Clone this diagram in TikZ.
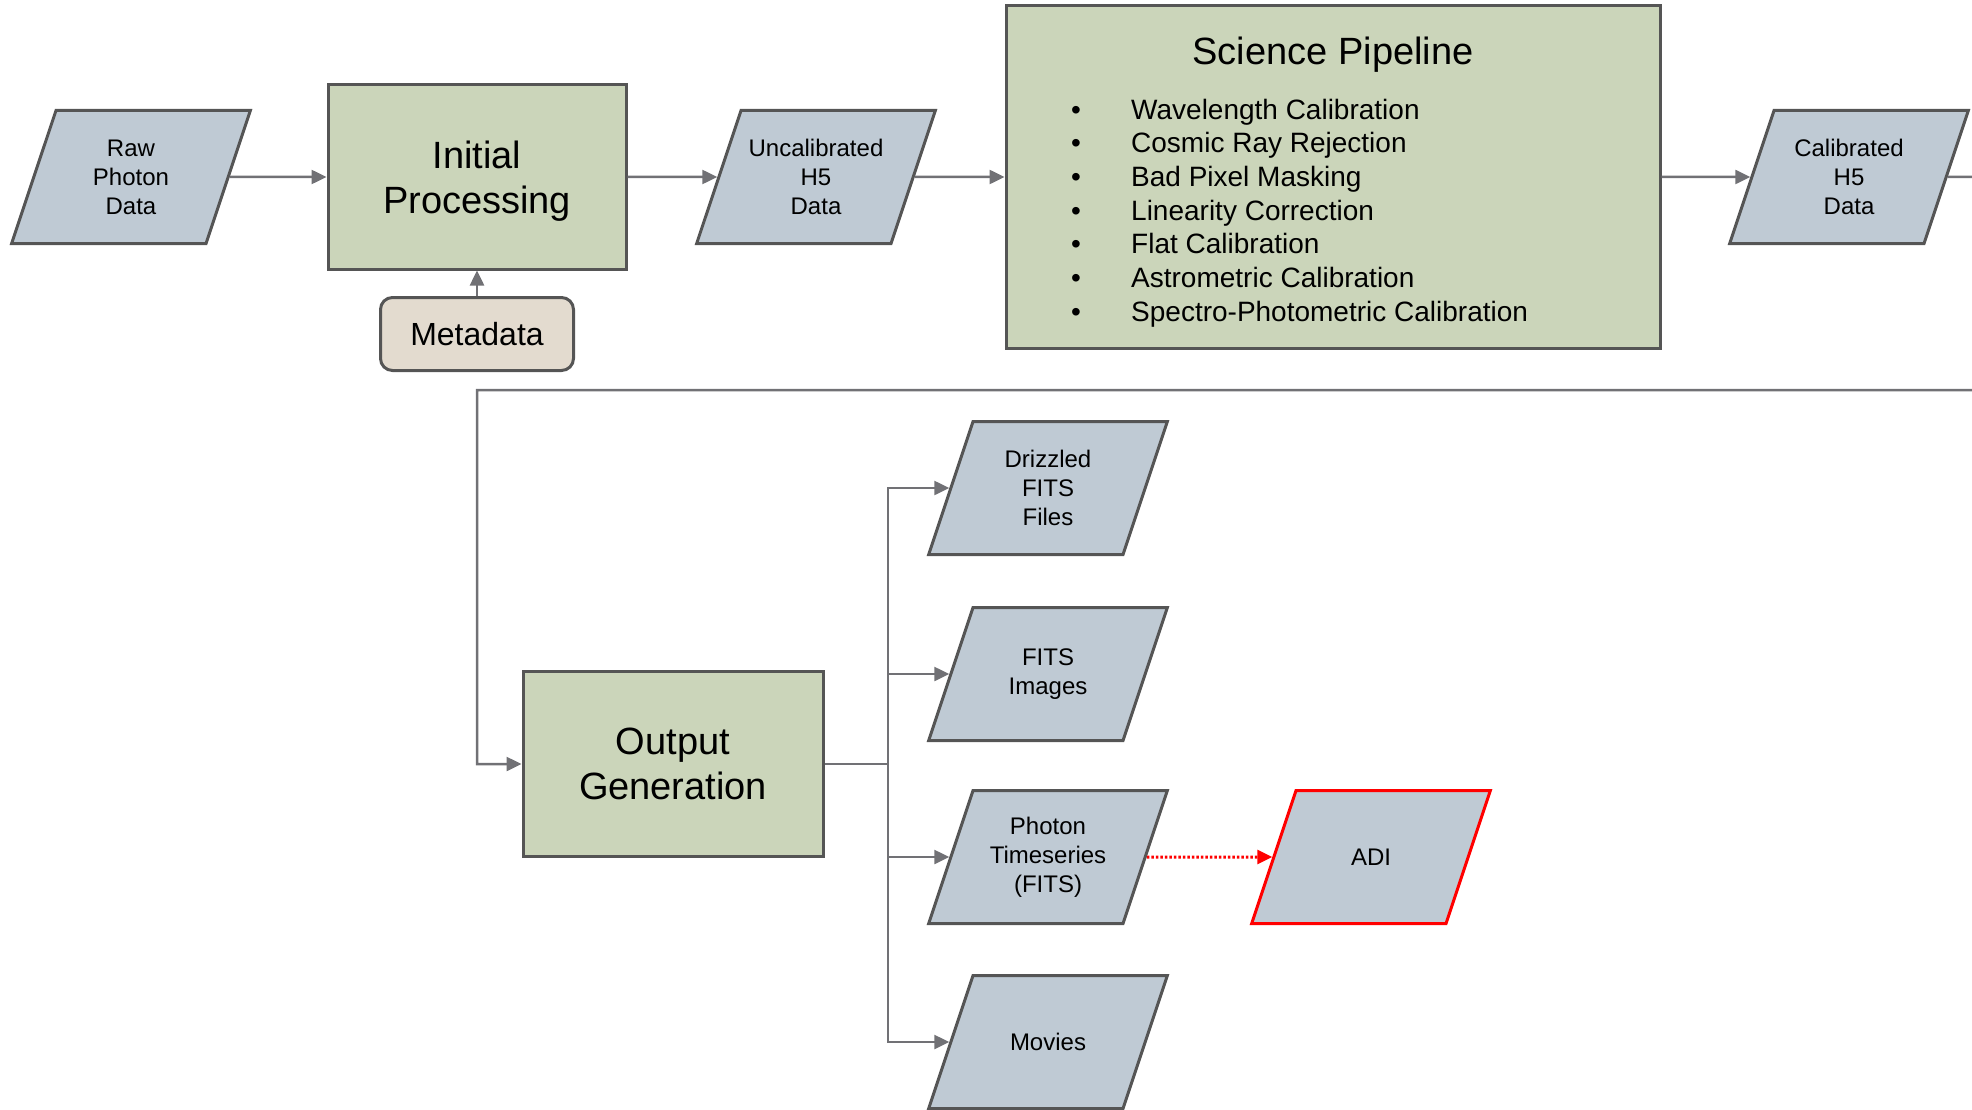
\documentclass[tikz,border=0pt]{standalone}
\usepackage{fontspec}
\setmainfont{Liberation Sans}
\usetikzlibrary{arrows.meta,positioning,shapes.geometric}
\definecolor{pdblue}{HTML}{BFCAD4}
\definecolor{pdgreen}{HTML}{CBD5BA}
\definecolor{pdsand}{HTML}{E3DBCF}
\definecolor{pdedge}{HTML}{555555}
\definecolor{pdline}{HTML}{717175}
\definecolor{pdred}{HTML}{FF0000}

\begin{document}
\begin{tikzpicture}[x=1pt,y=-1pt,>={Triangle[length=15pt,width=14pt]}]
    \tikzset{proc/.style={draw=pdedge,line width=3pt,fill=pdgreen,minimum width=298pt,minimum height=184pt,text depth=0pt,align=center,font=\fontsize{38}{45}\selectfont},
      file/.style={trapezium,trapezium left angle=61,trapezium right angle=119,trapezium stretches=true,draw=pdedge,line width=3pt,fill=pdblue,minimum width=233pt,minimum height=133pt,inner sep=0pt,font=\fontsize{24}{29}\selectfont,
        execute at begin node={\begin{minipage}[c][80pt][c]{150pt}\centering},
        execute at end node={\end{minipage}}},
      conn/.style={->,pdline,line width=2.5pt}}
    \useasboundingbox (0,0) rectangle (1972,1110);
    % top row
    \node[file] (raw) at (131,177) {Raw\\Photon\\Data};
    \node[proc] (init) at (477,177) {Initial\\Processing};
    \node[draw=pdedge,line width=3pt,fill=pdsand,rounded corners=12pt,minimum width=193pt,minimum height=73pt,font=\fontsize{32}{38}\selectfont] (meta) at (477,334) {Metadata};
    \node[file] (uncal) at (816,177) {Uncalibrated\\H5\\Data};
    \node[proc,minimum width=654pt,minimum height=342pt] (sci) at (1333,177) {};
    \node[font=\fontsize{38}{45}\selectfont] (scititle) at (1333,55) {Science Pipeline};
    \node[anchor=west,align=left,inner sep=0pt,font=\fontsize{28}{33.7}\selectfont] (scisteps) at (1071,213) {\makebox[60pt][l]{\textbullet}Wavelength Calibration\\
      \makebox[60pt][l]{\textbullet}Cosmic Ray Rejection\\
      \makebox[60pt][l]{\textbullet}Bad Pixel Masking\\
      \makebox[60pt][l]{\textbullet}Linearity Correction\\
      \makebox[60pt][l]{\textbullet}Flat Calibration\\
      \makebox[60pt][l]{\textbullet}Astrometric Calibration\\
      \makebox[60pt][l]{\textbullet}Spectro-Photometric Calibration};
    \node[file] (calib) at (1849,177) {Calibrated\\H5\\Data};
    % output side
    \node[proc,minimum width=300pt,minimum height=185pt] (out) at (673,764) {Output\\Generation};
    \node[file] (drz) at (1048,488) {Drizzled\\FITS\\Files};
    \node[file] (img) at (1048,674) {FITS\\Images};
    \node[file] (pts) at (1048,857) {Photon\\Timeseries\\(FITS)};
    \node[file] (mov) at (1048,1042) {Movies};
    \node[file,draw=pdred,line width=3pt] (adi) at (1371,857) {ADI};
    \coordinate (bus) at (888,764);
    \coordinate (loopR) at (2010,390);
    \coordinate (loopL) at (477,390);
    \draw[conn] (raw) -- (init);
    \draw[conn] (meta) -- (init);
    \draw[conn] (init) -- (uncal);
    \draw[conn] (uncal) -- (sci);
    \draw[conn] (sci) -- (calib);
    \draw[conn] (calib) -- (calib -| loopR) |- (loopL) |- (out);
    \draw[pdline,line width=2.5pt] (out) -- (bus);
    \draw[conn] (bus) |- (drz);
    \draw[conn] (bus) |- (img);
    \draw[conn] (bus) |- (pts);
    \draw[conn] (bus) |- (mov);
    \draw[conn,pdred,dotted,line width=3pt] (pts) -- (adi);
  \end{tikzpicture}
\end{document}
